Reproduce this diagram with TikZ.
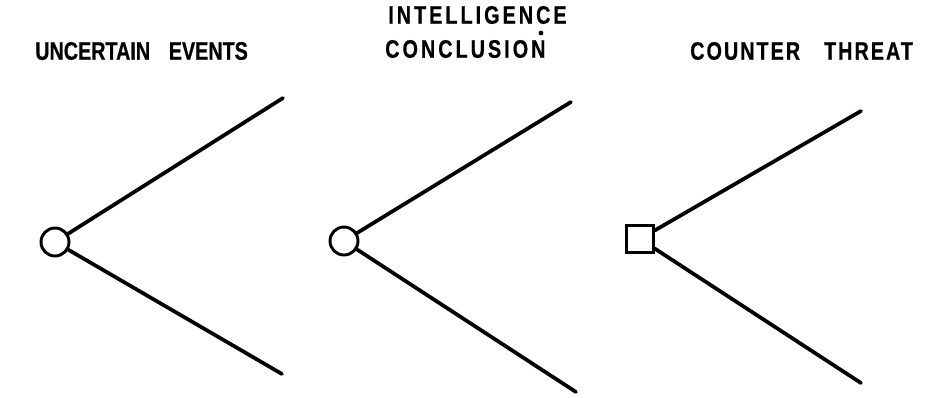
\documentclass[tikz,border=0pt]{standalone}
\usepackage{fontspec}
\setmainfont{Liberation Sans}
\newfontfamily\capsfont[FakeStretch=0.78,FakeBold=0.6]{Liberation Sans Bold}
\tikzset{
  chance/.style={draw,circle,line width=2.2pt,minimum size=21pt,inner sep=0pt},
  choice/.style={draw,rectangle,line width=2.2pt,minimum size=20pt,inner sep=0pt},
  branch/.style={line width=2.8pt,line cap=round},
  caption/.style={inner sep=0pt,anchor=west,font=\capsfont\fontsize{19}{22}\selectfont},
  spaced/.style={font=\capsfont\fontsize{19}{22}\selectfont\addfontfeature{LetterSpace=12}},
  loose/.style={font=\capsfont\fontsize{19}{22}\selectfont\addfontfeature{LetterSpace=8}}
}

\begin{document}
\begin{tikzpicture}[x=0.75pt,y=0.75pt,yscale=-1,xscale=1]
\useasboundingbox (0,0) rectangle (929,397);

%Circle
\node [chance] (evt) at (55,242) {};
%Circle
\node [chance] (intel) at (344,241) {};
%Square
\node [choice] (ctr) at (640,239) {};

\coordinate (evtup) at (283,98);
\coordinate (evtdn) at (282,374);
\coordinate (intelup) at (571,102);
\coordinate (inteldn) at (576,392);
\coordinate (ctrup) at (861,111);
\coordinate (ctrdn) at (861,383);

%Straight Lines
\draw [branch] (evt) -- (evtup);
\draw [branch] (evt) -- (evtdn);
%Straight Lines
\draw [branch] (intel) -- (intelup);
\draw [branch] (intel) -- (inteldn);
%Straight Lines
\draw [branch] (ctr) -- (ctrup);
\draw [branch] (ctr) -- (ctrdn);

% Text Node
\node [caption] (evtlbl) at (35,51) {UNCERTAIN\hspace{14pt}EVENTS};
% Text Node
\node [caption,spaced] (intellbl) at (388,15) {INTELLIGENCE};
% Text Node
\node [caption,spaced] (concl) at (385,49) {CONCLUSION};
\fill (541,33) circle (2.4);
% Text Node
\node [caption,loose] (ctrlbl) at (690,51) {COUNTER\hspace{18pt}THREAT};

\end{tikzpicture}
\end{document}
